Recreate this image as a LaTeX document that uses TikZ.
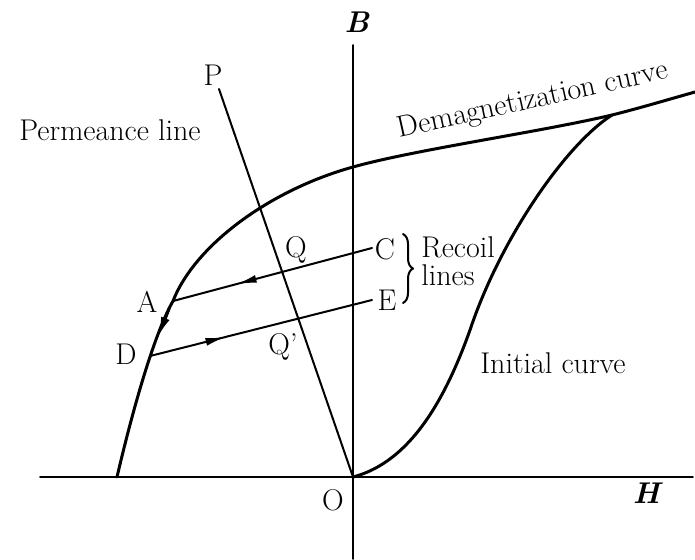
\documentclass[tikz,border=0pt]{standalone}
\usetikzlibrary{arrows.meta,decorations.markings,decorations.pathreplacing}

\begin{document}
\begin{tikzpicture}[
        x=0.5pt, y=-0.5pt,
        line cap=round,
        line join=round,
        every node/.style={font=\fontsize{15}{14}\selectfont},
        axis/.style={line width=0.9pt},
        curve/.style={line width=1.5pt},
        thin line/.style={line width=1pt},
        tip/.style={-{Latex[length=10pt,width=4.5pt]}},
        fwd/.style={postaction={decorate}, decoration={markings,
            mark=at position #1 with {\arrow{Latex[length=10pt,width=4pt]}}}},
        back/.style={postaction={decorate}, decoration={markings,
            mark=at position #1 with {\arrowreversed{Latex[length=10pt,width=4pt]}}}}
    ]
        \useasboundingbox (0,0) rectangle (695,559);

        % axes
        \coordinate (O) at (353,477);
        \coordinate (btop) at (353,45);
        \coordinate (bbot) at (353,559);
        \coordinate (hleft) at (40,477);
        \coordinate (hright) at (693,477);
        \draw[axis] (btop)--(bbot);
        \draw[axis] (hleft)--(hright);

        \node (labB) at (357,22) {\textbf{\textit{B}}};
        \node (labH) at (648,493) {\textbf{\textit{H}}};
        \node (labO) at (333,500) {O};

        % curves
        \coordinate (S) at (117,477);
        \coordinate (A) at (173,301);
        \coordinate (D) at (150,356);
        \coordinate (M) at (353,167);
        \coordinate (I) at (470,330);
        \coordinate (K) at (612,115);
        \coordinate (R) at (695,92);

        \draw[curve] (S) .. controls (131,417) and (153,336) .. (A)
            .. controls (195,245) and (270,190) .. (M)
            .. controls (413,150) and (540,132) .. (K)
            .. controls (640,108) and (670,99) .. (R);
        \draw[curve] (O) .. controls (410,462) and (445,400) .. (I)
            .. controls (500,240) and (565,145) .. (K);

        \coordinate (a1) at (169,309);
        \coordinate (a2) at (158,337);
        \draw[curve, tip] (a1)--(a2);

        % permeance line
        \coordinate (P) at (219,89);
        \draw[thin line] (O)--(P);

        % recoil lines
        \coordinate (C) at (372,248);
        \coordinate (E) at (372,300);
        \draw[thin line, back=0.32] (A)--(C);
        \draw[thin line, fwd=0.34] (D)--(E);

        \coordinate (bt) at (403,234);
        \coordinate (bb) at (403,303);
        \draw[thin line, decorate, decoration={brace, amplitude=5pt}] (bt)--(bb);

        \node (labA) at (147,302) {A};
        \node (labD) at (126,354) {D};
        \node (labC) at (385,249) {C};
        \node (labE) at (387,300) {E};
        \node (labQ) at (296,250) {Q};
        \node (labQq) at (283,347) {Q'};
        \node (labP) at (213,75) {P};

        \node (perm) at (110,130) {Permeance line};
        \node[rotate=12.5] (demag) at (533,101) {Demagnetization curve};
        \node (init) at (553,363) {Initial curve};
        \node[align=left, anchor=west, inner sep=0pt] (recoil) at (421,261) {Recoil\\lines};
    \end{tikzpicture}
\end{document}
